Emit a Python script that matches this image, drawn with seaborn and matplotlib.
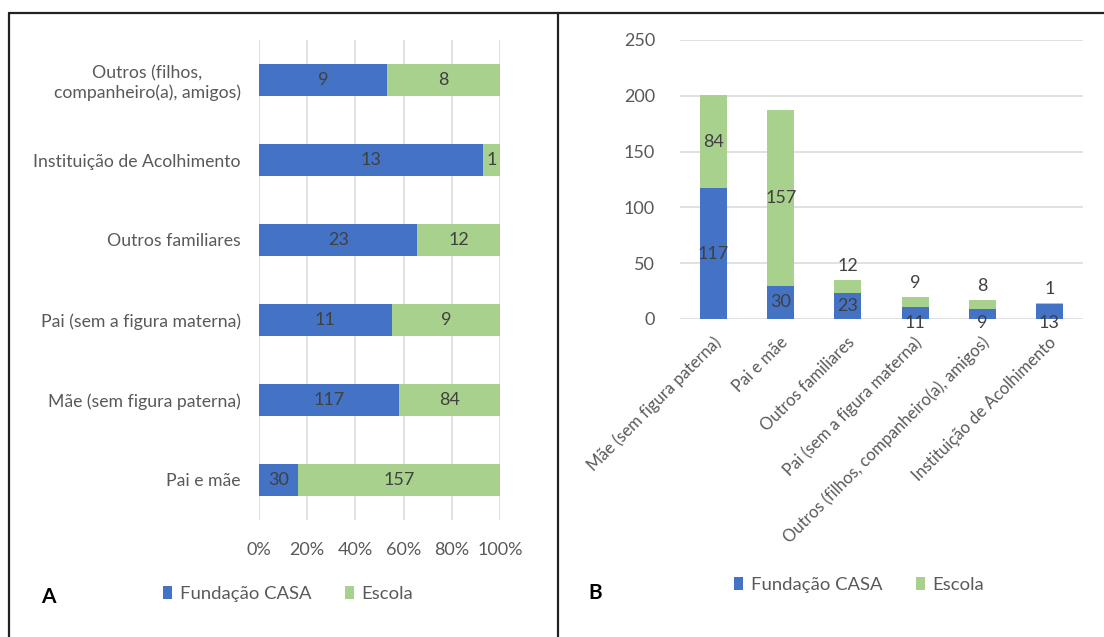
import matplotlib
matplotlib.use("Agg")
import matplotlib.pyplot as plt
import seaborn as sns
import pandas as pd
from matplotlib.lines import Line2D
from matplotlib.patches import Patch
from matplotlib.transforms import ScaledTranslation

# ---------------- data ----------------
categories = [
    "Pai e mãe",
    "Mãe (sem figura paterna)",
    "Pai (sem a figura materna)",
    "Outros familiares",
    "Instituição de Acolhimento",
    "Outros (filhos, companheiro(a), amigos)",
]
fundacao = [30, 117, 11, 23, 13, 9]
escola = [157, 84, 9, 12, 1, 8]

# order of categories in panel A (top to bottom) and panel B (left to right)
order_a = [
    "Outros (filhos, companheiro(a), amigos)",
    "Instituição de Acolhimento",
    "Outros familiares",
    "Pai (sem a figura materna)",
    "Mãe (sem figura paterna)",
    "Pai e mãe",
]
order_b = [
    "Mãe (sem figura paterna)",
    "Pai e mãe",
    "Outros familiares",
    "Pai (sem a figura materna)",
    "Outros (filhos, companheiro(a), amigos)",
    "Instituição de Acolhimento",
]
pct_ticks = [0, 20, 40, 60, 80, 100]
count_ticks = [0, 50, 100, 150, 200, 250]
series_names = ["Fundação CASA", "Escola"]

BLUE = "#4472C4"
GREEN = "#A9D18E"
TXT = "#595959"
LBL = "#404040"
GRID = "#D9D9D9"

sns.set_theme(style="white")
plt.rcParams["font.family"] = ["Lato", "DejaVu Sans"]

df = pd.DataFrame({"cat": categories, "fund": fundacao, "esc": escola})
df["total"] = df["fund"] + df["esc"]
df["fund_pct"] = df["fund"] / df["total"] * 100
df["total_pct"] = 100.0

W, H = 1104, 637
fig = plt.figure(figsize=(W / 100, H / 100), dpi=100)


def frac(x0, y_top, x1, y_bottom):
    return [x0 / W, 1 - y_bottom / H, (x1 - x0) / W, (y_bottom - y_top) / H]


bar_kw = dict(width=0.4, saturation=1, linewidth=0, edgecolor="none")

# ---------------- Panel A ----------------
axA = fig.add_axes(frac(259, 40, 500, 520))
da = df.set_index("cat").loc[order_a].reset_index()
sns.barplot(data=da, x="total_pct", y="cat", order=order_a, orient="y",
            color=GREEN, ax=axA, zorder=2, **bar_kw)
sns.barplot(data=da, x="fund_pct", y="cat", order=order_a, orient="y",
            color=BLUE, ax=axA, zorder=3, **bar_kw)
axA.set_xlim(0, 100)
axA.set_ylim(len(order_a) - 0.5, -0.5)
axA.set_xticks(pct_ticks)
axA.set_xticklabels([f"{t}%" for t in pct_ticks])
ylabels_a = [c.replace("(filhos, ", "(filhos,\n") for c in order_a]
axA.set_yticks(range(len(order_a)))
axA.set_yticklabels(ylabels_a, ha="right", multialignment="center")
axA.set_xlabel("")
axA.set_ylabel("")
for s in axA.spines.values():
    s.set_visible(False)
axA.grid(axis="x", color=GRID, linewidth=1.1, zorder=0)
axA.set_axisbelow(True)
axA.tick_params(axis="y", length=0, pad=13, labelsize=12.7, labelcolor=TXT)
axA.tick_params(axis="x", length=0, pad=16, labelsize=13, labelcolor=TXT)
for i, row in da.iterrows():
    fp = row["fund_pct"]
    axA.text(fp / 2, i, f"{row['fund']}", ha="center", va="center",
             fontsize=13, color=LBL, zorder=5)
    axA.text(fp + (100 - fp) / 2, i, f"{row['esc']}", ha="center", va="center",
             fontsize=13, color=LBL, zorder=5)

# ---------------- Panel B ----------------
axB = fig.add_axes(frac(680, 40, 1083, 319))
db = df.set_index("cat").loc[order_b].reset_index()
sns.barplot(data=db, x="cat", y="total", order=order_b, color=GREEN,
            ax=axB, zorder=2, **bar_kw)
sns.barplot(data=db, x="cat", y="fund", order=order_b, color=BLUE,
            ax=axB, zorder=3, **bar_kw)
axB.set_ylim(0, 250)
axB.set_xlim(-0.5, len(order_b) - 0.5)
axB.set_yticks(count_ticks)
axB.set_xlabel("")
axB.set_ylabel("")
for s in axB.spines.values():
    s.set_visible(False)
axB.grid(axis="y", color=GRID, linewidth=1.1, zorder=0)
axB.set_axisbelow(True)
axB.tick_params(axis="y", length=0, pad=18, labelsize=13, labelcolor=TXT)
axB.tick_params(axis="x", length=0, pad=11, labelsize=12, labelcolor=TXT)
axB.set_xticks(range(len(order_b)))
axB.set_xticklabels(order_b, rotation=45, ha="right", va="top",
                    rotation_mode="anchor")
for lab in axB.get_xticklabels():
    lab.set_transform(lab.get_transform() + ScaledTranslation(-1 / 72, 0, fig.dpi_scale_trans))

small = 20
for i, row in db.iterrows():
    f, e, t = row["fund"], row["esc"], row["total"]
    if f >= small:
        axB.text(i, f / 2, f"{f}", ha="center", va="center", fontsize=13,
                 color=LBL, zorder=5)
    else:
        axB.annotate(f"{f}", (i, 0), xytext=(0, -3), textcoords="offset points",
                     ha="center", va="center", fontsize=13, color=LBL,
                     zorder=5, annotation_clip=False)
    if e >= small:
        axB.text(i, f + e / 2, f"{e}", ha="center", va="center", fontsize=13,
                 color=LBL, zorder=5)
    else:
        axB.annotate(f"{e}", (i, t), xytext=(0, 10), textcoords="offset points",
                     ha="center", va="center", fontsize=13, color=LBL,
                     zorder=5, annotation_clip=False)

# ---------------- legends ----------------
handles = [Patch(facecolor=BLUE, edgecolor="none"),
           Patch(facecolor=GREEN, edgecolor="none")]
for cx, cy in [(288 / W, 1 - 594 / H), (859 / W, 1 - 585 / H)]:
    fig.legend(handles, series_names, loc="center", bbox_to_anchor=(cx, cy),
               ncol=2, frameon=False, fontsize=13.3, labelcolor=TXT,
               handlelength=0.5, handleheight=0.75, handletextpad=0.4,
               columnspacing=1.8)

fig.text(48 / W, 1 - 597 / H, "A", fontsize=15, fontweight="bold",
         ha="center", va="center", color="black")
fig.text(595 / W, 1 - 593 / H, "B", fontsize=15, fontweight="bold",
         ha="center", va="center", color="black")

# ---------------- frame ----------------
lw = 1.6
fig.add_artist(Line2D([9 / W, 1], [1 - 13 / H, 1 - 13 / H], color="#222222",
                      linewidth=lw, transform=fig.transFigure))
fig.add_artist(Line2D([9 / W, 9 / W], [0, 1 - 13 / H], color="#222222",
                      linewidth=lw, transform=fig.transFigure))
fig.add_artist(Line2D([558 / W, 558 / W], [0, 1 - 13 / H], color="#222222",
                      linewidth=lw, transform=fig.transFigure))

fig.savefig("out.png", dpi=100, facecolor="white")
